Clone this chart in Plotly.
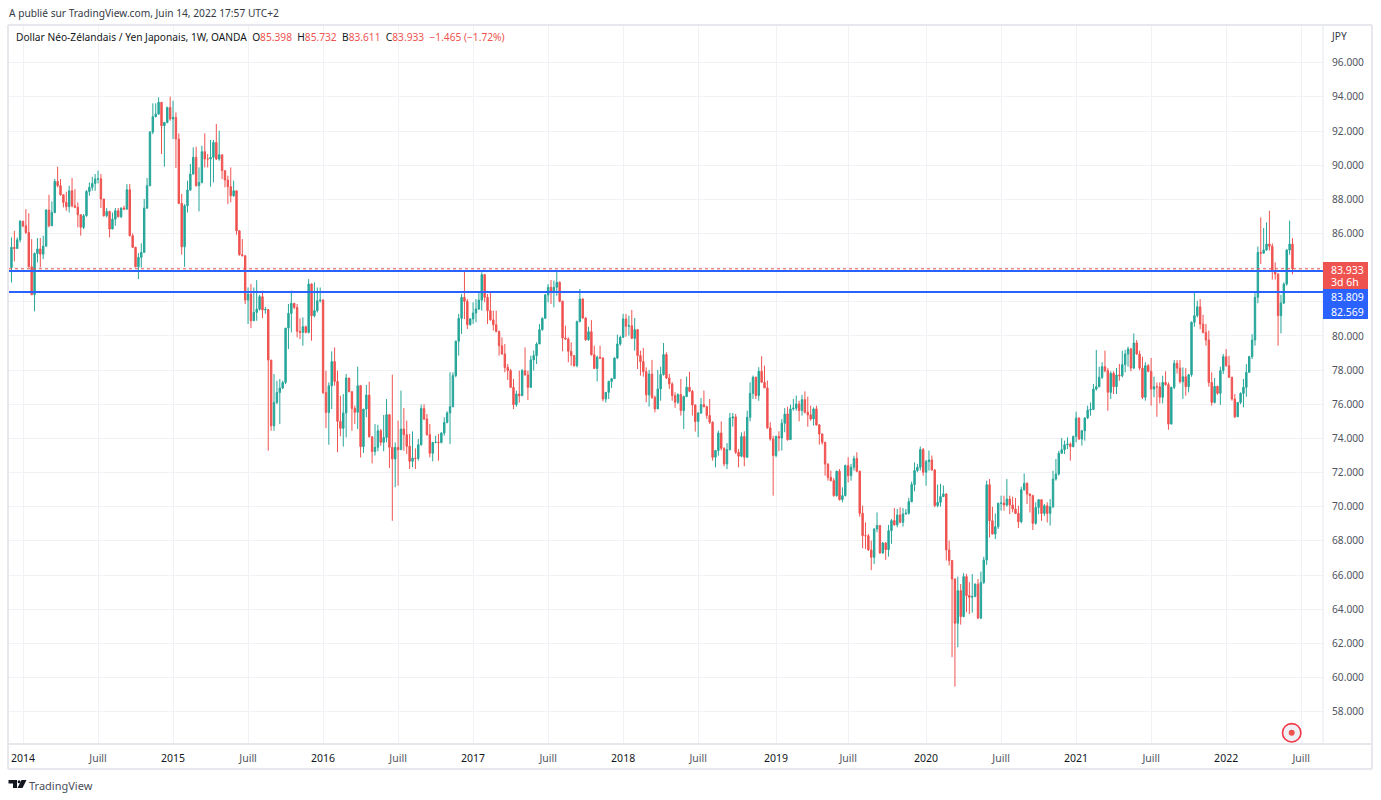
from datetime import date, timedelta
import plotly.graph_objects as go

first_open = 84.0
closes = [
85.19,85.12,85.63,86.71,86.45,86.06,84.05,82.41,84.83,85.09,84.79,85.26,87.37,86.45,87.23,89.05,88.8,88.27,87.82,
87.57,88.5,87.62,87.53,87.1,86.36,87.04,88.46,88.7,88.93,89.19,89.2,88.02,87.04,87.29,86.26,86.84,87.33,86.98,87.49,
87.43,88.56,85.87,85.19,84.05,84.6,84.89,87.49,88.8,91.94,92.84,92.99,93.68,92.31,92.5,93.38,92.7,92.8,91.53,87.76,
85.22,87.62,88.54,89.48,90.46,88.8,88.99,90.79,90.36,90.36,90.46,91.33,90.36,90.61,89.68,89.13,88.74,88.21,88.5,86.16,
84.76,84.7,82.1,82.45,80.89,81.38,81.57,82.3,81.52,81.55,78.59,74.74,76.11,76.69,76.95,77.28,80.46,81.32,81.91,81.67,80.27,
80.21,80.54,80.21,83.04,81.18,81.48,82.06,82.1,76.69,75.52,77.08,
78.5,77.34,75.0,74.59,75.49,77.54,76.74,75.76,75.53,77.09,73.52,75.72,76.54,74.1,73.23,73.48,74.45,73.77,74.06,75.39,
73.48,72.8,73.48,73.34,74.55,74.22,73.54,72.66,72.85,72.83,73.63,75.76,75.14,74.22,73.13,73.77,73.78,73.76,74.32,74.94,
75.49,75.86,77.68,79.69,81.03,82.26,82.03,80.66,81.0,81.35,81.58,82.1,83.59,82.26,81.48,80.94,80.66,80.27,79.43,78.94,
78.16,77.97,76.99,75.98,76.6,76.5,77.97,77.72,76.99,78.6,78.85,79.53,80.37,81.03,82.4,82.85,82.56,82.85,83.14,82.03,
79.88,79.82,79.1,78.85,78.26,80.84,82.17,81.05,79.78,80.25,78.9,78.1,78.75,78.71,76.31,76.7,77.34,77.5,78.71,79.53,
79.92,81.0,80.57,80.6,79.86,80.37,78.85,78.5,77.91,76.55,77.77,
76.41,75.73,76.9,77.74,78.91,77.54,77.19,76.51,76.12,76.57,75.63,76.45,77.0,76.76,75.96,74.99,75.49,75.98,75.86,75.34,
74.95,72.9,73.29,74.32,73.42,72.51,73.35,75.2,75.26,73.19,72.96,74.11,72.9,75.24,76.64,77.58,76.51,77.93,77.29,76.96,
74.62,73.97,73.0,74.11,74.03,74.89,75.43,73.93,75.73,75.77,76.02,75.63,76.27,75.53,75.38,75.14,75.73,74.79,74.26,73.77,
72.5,71.72,71.53,70.65,72.08,70.42,70.65,72.41,71.82,72.31,72.82,72.08,69.62,68.31,68.3,67.47,67.04,68.7,68.9,67.3,
67.88,67.49,68.6,69.19,68.94,69.52,69.09,69.58,69.62,70.3,71.3,72.12,72.31,73.35,72.02,72.64,72.74,72.15,70.07,70.26,
70.6,70.75,67.47,66.85,65.77,63.18,65.09,63.57,65.91,64.8,64.7,
64.75,65.47,63.48,65.57,66.88,71.29,69.18,68.4,68.83,70.2,70.22,70.1,70.45,70.1,69.87,69.61,69.12,71.0,71.37,70.74,
70.65,69.03,69.96,70.41,69.61,70.06,69.61,70.0,71.62,71.92,73.13,73.34,73.63,73.67,73.52,74.12,75.2,73.97,74.45,75.2,
75.66,75.7,76.89,77.03,77.58,78.2,77.97,76.7,77.81,77.03,77.71,77.67,78.32,78.94,79.24,78.12,79.59,78.94,78.12,76.41,
78.26,77.93,76.89,77.03,77.02,76.41,77.28,77.15,74.84,76.99,78.4,78.12,77.32,
77.61,77.03,77.73,80.8,81.19,81.71,80.7,80.21,79.76,77.28,76.11,77.05,76.64,77.97,78.79,78.26,77.58,76.31,75.27,76.11,
76.64,76.99,77.87,78.79,79.76,82.26,84.89,84.85,85.03,85.38,85.25,83.78,83.63,81.19,81.93,83.04,85.03,85.38,83.933,
]
highs = [
85.77,86.16,85.77,86.79,86.75,87.43,87.18,85.67,84.89,85.73,85.73,85.87,87.43,88.27,87.88,89.19,89.91,89.19,88.27,
88.45,88.8,89.25,88.6,87.82,87.1,87.14,88.54,88.99,89.32,89.48,89.68,89.48,88.02,87.49,87.33,87.23,87.49,87.49,87.53,
87.63,88.89,88.89,86.0,85.22,84.85,85.42,88.02,89.25,91.98,93.62,93.62,93.97,93.68,92.5,93.42,94.01,93.77,93.09,91.86,
88.31,87.72,89.09,90.07,91.04,91.08,89.87,91.14,91.86,90.65,91.47,91.47,92.41,92.02,90.61,89.68,89.38,89.87,89.09,88.5,
86.2,85.67,84.7,82.84,83.04,82.84,83.27,82.41,82.65,81.7,81.57,78.59,77.77,77.38,77.48,77.38,80.46,81.87,82.65,81.91,81.87,
81.03,81.09,80.6,83.33,83.08,83.14,82.84,82.84,82.16,77.96,77.28,
79.1,79.33,77.97,76.5,76.6,77.77,77.54,76.74,75.92,78.2,77.13,75.72,77.13,77.32,74.1,74.84,74.8,74.55,75.37,76.31,
75.43,77.73,73.77,75.04,76.8,75.78,75.04,74.26,74.41,73.42,73.97,75.98,76.0,75.43,74.84,73.77,74.16,74.26,74.36,75.24,
75.59,77.87,77.87,79.73,81.29,82.46,83.82,82.16,81.05,81.97,82.16,82.56,83.73,83.63,82.46,82.56,81.48,81.48,80.31,79.92,
79.53,78.36,78.07,77.48,76.8,77.97,78.07,79.33,77.97,78.85,79.14,79.63,80.7,81.09,82.46,83.04,83.28,83.24,83.82,83.2,
82.07,80.6,79.92,79.63,78.85,80.9,82.75,82.2,81.09,80.54,80.93,79.43,78.85,79.43,78.75,76.7,77.38,77.54,78.75,80.08,
80.02,81.29,81.29,81.19,81.52,81.05,80.41,79.14,79.3,78.16,78.01,
78.6,76.51,78.01,78.2,79.59,79.04,77.78,77.29,76.7,76.64,77.48,76.51,77.62,77.91,76.84,75.98,75.53,76.37,76.8,75.92,
76.31,75.0,73.33,74.46,75.0,73.48,73.73,75.49,75.49,75.43,73.38,74.36,74.42,75.63,77.29,77.68,77.62,78.17,78.81,78.26,
77.39,74.95,74.16,74.17,74.42,75.14,75.78,75.86,75.98,76.31,76.51,76.21,76.55,76.76,76.45,75.92,75.82,75.92,74.85,74.3,
73.81,72.54,72.12,71.68,72.12,72.21,71.14,72.47,72.9,72.51,72.99,73.19,72.12,70.07,69.09,68.41,68.02,68.74,69.67,68.92,
67.92,67.92,68.94,69.28,69.93,69.87,69.97,69.93,69.87,70.52,71.47,72.6,72.51,73.52,73.44,72.74,73.29,73.0,72.21,71.3,
71.34,71.24,70.79,68.02,66.89,65.81,65.91,65.48,66.11,66.07,65.58,
66.06,65.51,65.77,66.2,67.07,71.52,71.62,70.0,69.61,70.25,70.65,70.65,71.62,70.65,70.59,70.51,70.06,71.17,71.95,71.43,
70.78,70.7,70.26,70.45,70.45,70.16,70.26,70.45,72.11,72.8,73.28,74.03,73.87,74.06,73.77,74.16,75.57,75.23,74.49,75.23,
75.92,76.11,77.19,79.18,78.2,78.46,79.14,78.12,77.93,77.93,78.12,78.36,79.14,79.18,79.37,79.3,80.15,79.76,79.14,78.79,
78.46,78.36,78.71,77.62,77.28,77.28,77.67,77.93,77.28,77.03,78.59,78.59,78.59,
78.16,78.12,77.77,80.85,82.55,82.06,82.16,81.24,80.7,80.31,77.87,77.54,77.09,78.2,78.94,79.23,78.84,77.61,76.6,76.11,
76.7,77.48,78.36,78.84,80.11,82.55,85.23,86.94,86.32,86.65,87.33,85.42,84.31,83.66,82.41,83.14,85.09,86.75,85.732,
]
lows = [
83.14,84.37,85.19,85.48,86.36,85.97,84.01,82.41,81.44,84.31,84.01,84.5,85.22,86.36,86.45,87.18,88.7,88.21,87.53,
87.33,87.23,87.53,87.49,86.36,85.87,86.26,86.98,88.21,88.5,88.5,88.93,87.49,86.98,86.94,85.77,86.26,86.45,86.94,86.9,
87.37,87.37,85.83,85.15,84.01,83.33,84.01,84.89,87.43,88.76,91.82,92.8,92.95,90.65,89.91,92.45,92.6,91.53,89.83,87.72,
84.76,84.05,87.23,88.5,89.44,88.74,87.29,88.93,89.87,89.87,88.74,88.99,90.3,90.26,89.19,88.7,87.72,87.82,88.15,85.93,
84.7,84.66,81.87,80.7,80.46,80.89,80.89,81.48,81.05,81.3,73.28,74.45,74.45,76.01,74.84,76.89,77.18,79.23,80.21,81.57,79.92,
79.82,79.43,80.15,80.15,79.72,81.09,81.38,81.96,76.6,74.6,73.63,
75.72,77.09,73.19,74.12,73.52,74.06,76.7,74.45,74.85,74.55,72.89,73.15,75.24,74.06,72.54,73.0,73.25,73.57,73.25,73.77,
72.27,69.18,71.14,71.23,73.38,73.28,73.09,72.21,72.31,72.21,72.7,73.58,75.08,74.16,72.89,72.66,73.71,72.7,73.71,74.16,
74.88,73.67,75.82,77.58,78.85,80.12,80.99,80.41,80.6,80.7,80.8,81.52,81.48,81.97,80.7,80.9,80.31,80.21,78.85,78.9,
77.87,77.42,76.95,75.72,75.86,76.1,76.5,77.68,76.25,76.99,77.97,78.36,79.53,80.31,81.05,81.97,81.87,81.68,82.36,81.97,
79.1,79.78,78.46,78.26,78.2,78.16,80.8,80.99,79.72,79.72,78.85,78.07,77.34,78.65,76.17,76.1,76.31,76.95,77.48,78.65,
79.43,79.88,79.96,80.02,79.82,79.14,78.07,77.68,77.62,76.12,75.86,
76.31,75.53,75.73,76.21,77.68,77.48,76.9,76.21,75.79,76.02,75.34,74.55,76.41,76.7,75.34,74.4,74.07,75.43,75.82,75.14,
74.85,72.7,72.31,72.99,73.29,72.37,72.21,73.29,74.69,73.09,72.31,72.9,72.37,72.86,75.0,76.31,76.31,76.21,77.29,76.96,
74.56,73.87,70.65,72.9,73.25,73.29,74.36,73.87,73.91,75.63,75.63,75.0,75.34,75.47,74.69,75.04,74.75,74.75,73.64,73.64,
71.82,71.53,71.49,70.59,70.59,70.36,70.26,70.61,71.43,71.53,72.12,72.02,69.42,67.57,67.53,67.43,66.29,66.65,68.51,67.24,
67.24,66.89,67.08,67.83,68.9,68.8,69.03,68.84,69.54,69.54,70.26,70.9,72.02,72.12,71.82,71.23,72.12,72.12,69.97,69.97,
70.01,70.56,66.85,66.56,61.19,59.47,61.77,63.1,63.53,63.82,63.72,
63.8,64.7,63.42,63.42,65.47,66.6,68.2,68.4,68.11,68.7,69.77,69.77,70.0,69.57,69.67,69.57,68.75,69.03,70.94,70.16,
69.67,68.64,68.95,69.57,69.18,69.47,69.08,68.9,69.92,71.53,71.82,73.19,73.09,73.38,72.7,73.48,73.77,73.91,73.58,73.87,
75.14,75.33,75.66,76.8,76.99,77.48,77.87,75.62,76.31,76.6,76.6,77.38,77.58,77.87,78.2,77.93,78.06,78.9,78.0,76.31,
76.21,77.87,75.92,76.41,75.27,76.05,76.05,77.09,74.51,74.84,76.89,77.8,77.22,
76.31,76.5,76.7,77.61,80.54,81.09,80.4,80.15,79.43,77.03,75.92,76.05,76.56,75.97,77.77,78.2,77.54,76.21,75.19,75.27,
76.01,75.82,76.44,77.87,78.65,79.43,81.91,84.21,84.8,85.0,85.0,83.3,83.3,79.43,80.15,81.87,82.94,84.76,83.611,
]

last_week = date(2022, 6, 13)
support_levels = [83.809, 82.569]
last_price = 83.933
y_ticks = list(range(58, 97, 2))
hidden_y_labels = [82, 84]
x_ticks = ["2014-01-06","2014-07-07","2015-01-05","2015-07-06","2016-01-04","2016-07-04","2017-01-02","2017-07-03",
           "2018-01-01","2018-07-02","2019-01-07","2019-07-01","2020-01-06","2020-07-06","2021-01-04","2021-07-05",
           "2022-01-03","2022-07-04"]
x_labels = ["2014","Juill","2015","Juill","2016","Juill","2017","Juill","2018","Juill","2019","Juill","2020","Juill",
            "2021","Juill","2022","Juill"]

n = min(len(closes), len(highs), len(lows))
closes, highs, lows = closes[:n], highs[:n], lows[:n]
opens = [first_open] + closes[:-1]
highs = [max(h, o, c) for h, o, c in zip(highs, opens, closes)]
lows = [min(l, o, c) for l, o, c in zip(lows, opens, closes)]
dates = [(last_week - timedelta(weeks=n - 1 - i)).isoformat() for i in range(n)]

FONT = "Noto Sans"
L, R, T, B = 9, 1323, 25, 743
W, H = R - L, B - T
px = lambda x: (x - L) / W
py = lambda y: (B - y) / H
week_px = 2.885
x0 = (last_week - timedelta(days=7 * (1292.5 - L) / week_px)).isoformat()
x1 = (last_week + timedelta(days=7 * (R - 1292.5) / week_px)).isoformat()
y_scale = 17.08
y_shift = 0.04
y1 = 96 + (62 - T) / y_scale + y_shift
y0 = 96 - (B - 62) / y_scale + y_shift

fig = go.Figure(go.Candlestick(
    x=dates, open=opens, high=highs, low=lows, close=closes,
    increasing=dict(line=dict(color="#26a69a", width=1), fillcolor="#26a69a"),
    decreasing=dict(line=dict(color="#ef5350", width=1), fillcolor="#ef5350"),
    whiskerwidth=0, hoverinfo="skip", showlegend=False,
))

shapes = []
def frame(x_a, y_a, x_b, y_b, color="#e6e8ee", width=2):
    shapes.append(dict(type="line", xref="paper", yref="paper", x0=px(x_a), y0=py(y_a), x1=px(x_b), y1=py(y_b),
                       line=dict(color=color, width=width), layer="above"))
frame(8, 25, 1372, 25); frame(8, 25, 8, 769); frame(1372, 25, 1372, 769); frame(8, 769, 1372, 769)
frame(8, 744, 1372, 744); frame(1323, 25, 1323, 744, width=1)

shapes.append(dict(type="line", xref="paper", yref="y", x0=0, x1=1, y0=last_price, y1=last_price,
                   line=dict(color="#ef5350", width=1, dash="dot")))
for lv in support_levels:
    shapes.append(dict(type="line", xref="paper", yref="y", x0=0, x1=1, y0=lv, y1=lv,
                       line=dict(color="#2962ff", width=2)))

def box(xa, ya, xb, yb, color):
    shapes.append(dict(type="rect", xref="paper", yref="paper", x0=px(xa), x1=px(xb), y0=py(ya), y1=py(yb),
                       fillcolor=color, line=dict(width=0), layer="above"))
box(1323, 262, 1368, 289, "#ef5350")
box(1323, 289, 1368, 319, "#2962ff")

# target marker
shapes.append(dict(type="circle", xref="paper", yref="paper", x0=px(1282.5), x1=px(1300.9), y0=py(742), y1=py(723.6),
                   fillcolor="#eef0f5", line=dict(color="#f23645", width=1.6), layer="above"))
shapes.append(dict(type="circle", xref="paper", yref="paper", x0=px(1288.7), x1=px(1294.7), y0=py(735.8), y1=py(729.8),
                   fillcolor="#ef5350", line=dict(width=0), layer="above"))

# TradingView logo
def poly(points):
    return "M " + " L ".join(f"{px(a):.5f},{py(b):.5f}" for a, b in points) + " Z"
logo_color = "#131722"
for pts in ([(8.5, 780), (17, 780), (17, 788), (13, 788), (13, 783.5), (8.5, 783.5)],
            [(21.5, 780), (26.5, 780), (22.5, 788), (17.5, 788)]):
    shapes.append(dict(type="path", xref="paper", yref="paper", path=poly(pts), fillcolor=logo_color, line=dict(width=0)))
shapes.append(dict(type="circle", xref="paper", yref="paper", x0=px(17.6), x1=px(20.6), y0=py(783.2), y1=py(780.2),
                   fillcolor=logo_color, line=dict(width=0)))

def note(x, y, text, size=10.2, color="#131722", anchor="left"):
    return dict(xref="paper", yref="paper", x=px(x), y=py(y), text=text, showarrow=False, xanchor=anchor, yanchor="middle",
                font=dict(family=FONT, size=size, color=color))
red = '<span style="color:#ef5350">%s</span>'
legend_text = ("Dollar Néo-Zélandais / Yen Japonais, 1W, OANDA\u00a0\u00a0O" + red % "85.398" + "\u00a0\u00a0H" + red % "85.732"
               + "\u00a0\u00a0B" + red % "83.611" + "\u00a0\u00a0C" + red % "83.933" + "\u00a0\u00a0" + red % "\u22121.465 (\u22121.72%)")
annotations = [
    note(7, 13, "A publié sur TradingView.com, Juin 14, 2022 17:57 UTC+2", 10.2, "#363a45"),
    note(13.5, 37, legend_text, 10.2, "#131722"),
    note(1329, 36, "JPY", 10.2, "#363a45"),
    note(1347.5, 269.5, "83.933", 10.5, "#ffffff", "center"),
    note(1345, 282, "3d 6h", 10.5, "#ffffff", "center"),
    note(1347.5, 297, "83.809", 10.5, "#ffffff", "center"),
    note(1347.5, 312, "82.569", 10.5, "#ffffff", "center"),
    note(27, 785, "TradingView", 11, "#4a4e59"),
]

tick_text = [f'<span style="color:#131722">{t}</span>' if t != "Juill" else t for t in x_labels]
fig.update_layout(
    width=1381, height=800, autosize=False,
    margin=dict(l=L, r=1381 - R, t=T, b=800 - B, pad=0),
    paper_bgcolor="#ffffff", plot_bgcolor="#ffffff",
    shapes=shapes, annotations=annotations, showlegend=False,
    font=dict(family=FONT, size=10.2, color="#363a45"),
    xaxis=dict(type="date", range=[x0, x1], rangeslider=dict(visible=False), tickmode="array", tickvals=x_ticks,
               ticktext=tick_text, showgrid=True, gridcolor="#f1f2f5", gridwidth=1, zeroline=False, ticks="",
               tickangle=0, showline=False, ticklabelstandoff=7, tickfont=dict(family=FONT, size=10.5, color="#50535e")),
    yaxis=dict(side="right", range=[y0, y1], tickmode="array", tickvals=y_ticks,
               ticktext=["" if v in hidden_y_labels else f"{v:.3f}" for v in y_ticks],
               showgrid=True, gridcolor="#f1f2f5", gridwidth=1, zeroline=False, ticks="", showline=False,
               ticklabelstandoff=8, tickfont=dict(family=FONT, size=10.2, color="#50535e")),
)
fig.write_html("out.html", post_script="document.body.style.margin='0';", config={"displayModeBar": False})
